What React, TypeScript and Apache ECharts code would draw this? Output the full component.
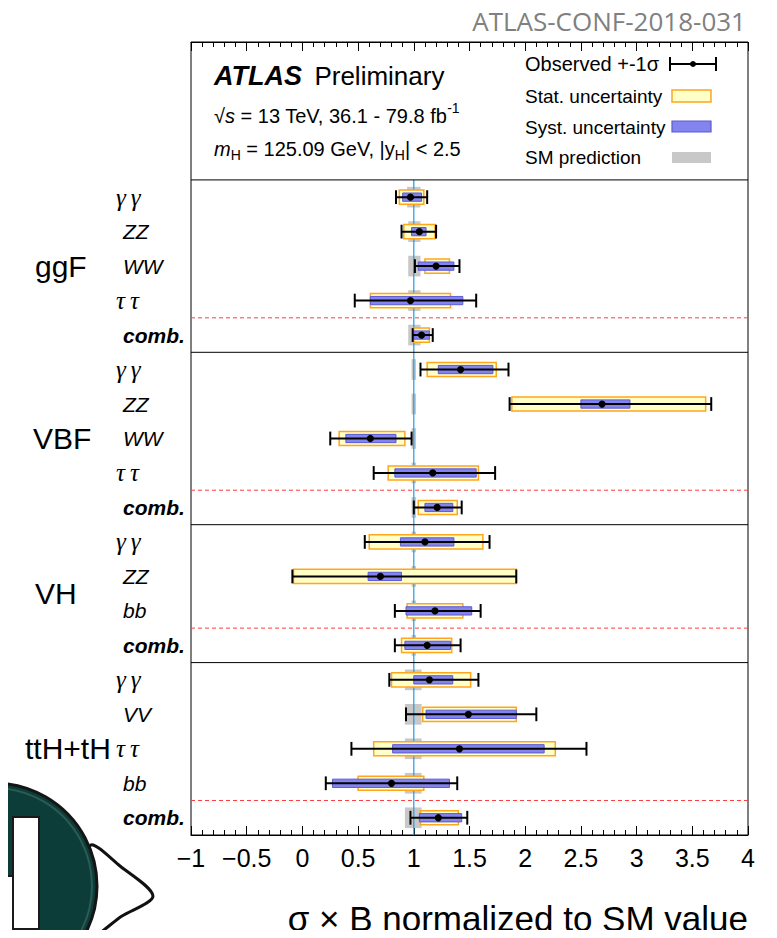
import React, { useEffect, useRef } from 'react';
import * as echarts from 'echarts';

// ---- data ----
const groups = ['ggF', 'VBF', 'VH', 'ttH+tH'];
const groupSizes = [5, 5, 4, 5];
const groupLabelLeft = [35, 33, 35, 25];
const categories = [
  'γγ', 'ZZ', 'WW', 'ττ', 'comb.',
  'γγ', 'ZZ', 'WW', 'ττ', 'comb.',
  'γγ', 'ZZ', 'bb', 'comb.',
  'γγ', 'VV', 'ττ', 'bb', 'comb.',
];
const observed = [0.97, 1.05, 1.2, 0.97, 1.07, 1.42, 2.69, 0.61, 1.17, 1.21, 1.1, 0.7, 1.19, 1.12, 1.14, 1.49, 1.41, 0.8, 1.22];
const totalLow = [0.84, 0.89, 1.01, 0.47, 0.99, 1.06, 1.86, 0.25, 0.64, 1.0, 0.56, -0.09, 0.83, 0.83, 0.78, 0.93, 0.44, 0.21, 0.97];
const totalHigh = [1.12, 1.2, 1.41, 1.56, 1.17, 1.85, 3.67, 0.98, 1.73, 1.43, 1.68, 1.92, 1.6, 1.42, 1.58, 2.1, 2.55, 1.39, 1.48];
const statLow = [0.87, 0.91, 1.1, 0.61, 1.0, 1.12, 1.88, 0.33, 0.77, 1.04, 0.6, -0.08, 0.94, 0.89, 0.8, 1.08, 0.64, 0.5, 1.06];
const statHigh = [1.09, 1.19, 1.32, 1.33, 1.14, 1.74, 3.62, 0.92, 1.58, 1.39, 1.62, 1.92, 1.44, 1.34, 1.51, 1.92, 2.27, 1.09, 1.4];
const systLow = [0.9, 0.98, 1.04, 0.61, 1.0, 1.22, 2.5, 0.39, 0.83, 1.1, 0.88, 0.59, 0.93, 0.92, 1.0, 1.11, 0.81, 0.27, 1.05];
const systHigh = [1.07, 1.11, 1.36, 1.44, 1.14, 1.71, 2.94, 0.84, 1.56, 1.35, 1.36, 0.89, 1.52, 1.33, 1.35, 1.92, 2.17, 1.32, 1.43];
const smLow = [0.94, 0.95, 0.95, 0.95, 0.95, 0.98, 0.98, 0.98, 0.98, 0.98, 0.98, 0.98, 0.98, 0.98, 0.92, 0.92, 0.92, 0.92, 0.92];
const smHigh = [1.06, 1.06, 1.06, 1.06, 1.06, 1.02, 1.02, 1.02, 1.02, 1.02, 1.02, 1.02, 1.02, 1.02, 1.07, 1.07, 1.07, 1.07, 1.07];
const smValue = 1;
const xMin = -1;
const xMax = 4;
const xInterval = 0.5;

// ---- layout rows ----
const HEADER_ROWS = 4;
const TOTAL_ROWS = HEADER_ROWS + groupSizes.reduce((a, b) => a + b, 0);
const groupStarts: number[] = [];
{
  let acc = HEADER_ROWS;
  groupSizes.forEach((s) => {
    groupStarts.push(acc);
    acc += s;
  });
}
const rowY = categories.map((_, i) => HEADER_ROWS + 0.5 + i);
const groupCenters = groupSizes.map((s, k) => groupStarts[k] + s / 2);

const SANS = '"Liberation Sans", Arial, Helvetica, sans-serif';
const SERIF = '"Liberation Serif", "DejaVu Serif", serif';

const YELLOW_FILL = '#ffffc8';
const YELLOW_STROKE = '#ffa51e';
const BLUE_FILL = '#8484ee';
const BLUE_STROKE = '#5a5ad6';
const GREY = '#c8c8c8';

export default function App() {
  const ref = useRef<HTMLDivElement>(null);

  useEffect(() => {
    if (!ref.current) return;
    const chart = echarts.init(ref.current, undefined, { renderer: 'svg' });

    const sepData: number[][] = [];
    groupStarts.forEach((s, k) => {
      sepData.push([xMin, s, 0]);
      sepData.push([xMin, s + groupSizes[k] - 1, 1]);
    });

    const option: any = {
      animation: false,
      backgroundColor: '#fff',
      grid: {
        left: 191,
        right: 29,
        top: 42,
        bottom: 103,
        show: true,
        borderColor: '#000',
        borderWidth: 1,
        backgroundColor: 'transparent',
      },
      xAxis: [
        {
          type: 'value',
          min: xMin,
          max: xMax,
          interval: xInterval,
          position: 'bottom',
          axisLine: { show: true, onZero: false, lineStyle: { color: '#000', width: 1 } },
          axisTick: { show: true, inside: true, length: 9, lineStyle: { color: '#000' } },
          minorTick: { show: true, splitNumber: 5, length: 5, lineStyle: { color: '#000' } },
          splitLine: { show: false },
          axisLabel: {
            show: true,
            margin: 10,
            fontSize: 25,
            fontFamily: SANS,
            color: '#000',
            formatter: (v: number) => (v < 0 ? '\u2212' + String(Math.abs(v)) : String(v)),
          },
        },
        {
          type: 'value',
          min: xMin,
          max: xMax,
          interval: xInterval,
          position: 'top',
          axisLine: { show: true, onZero: false, lineStyle: { color: '#000', width: 1 } },
          axisTick: { show: true, inside: true, length: 9, lineStyle: { color: '#000' } },
          minorTick: { show: true, splitNumber: 5, length: 5, lineStyle: { color: '#000' } },
          splitLine: { show: false },
          axisLabel: { show: false },
        },
      ],
      yAxis: { type: 'value', min: 0, max: TOTAL_ROWS, inverse: true, show: false },
      series: [
        // SM prediction grey boxes
        {
          type: 'custom',
          name: 'SM prediction',
          z: 1,
          data: categories.map((_, i) => [smValue, rowY[i], i]),
          encode: { x: 0, y: 1 },
          renderItem: (params: any, api: any) => {
            const i = api.value(2);
            const y = api.value(1);
            const pitch = api.size([0, 1])[1];
            const p0 = api.coord([smLow[i], y]);
            const p1 = api.coord([smHigh[i], y]);
            const h = pitch * 0.6;
            return {
              type: 'rect',
              shape: { x: p0[0], y: p0[1] - h / 2, width: p1[0] - p0[0], height: h },
              style: { fill: GREY },
            };
          },
        },
        // SM reference line
        {
          type: 'custom',
          z: 2,
          data: [[smValue, HEADER_ROWS, TOTAL_ROWS]],
          encode: { x: 0, y: 1 },
          renderItem: (params: any, api: any) => {
            const a = api.coord([api.value(0), api.value(1)]);
            const b = api.coord([api.value(0), api.value(2)]);
            return {
              type: 'line',
              shape: { x1: a[0], y1: a[1], x2: b[0], y2: b[1] },
              style: { stroke: '#1f9ce6', lineWidth: 1.2 },
            };
          },
        },
        // separators
        {
          type: 'custom',
          z: 2,
          data: sepData,
          encode: { x: 0, y: 1 },
          renderItem: (params: any, api: any) => {
            const y = api.value(1);
            const dashed = api.value(2) === 1;
            const a = api.coord([xMin, y]);
            const b = api.coord([xMax, y]);
            return {
              type: 'line',
              shape: { x1: a[0], y1: a[1], x2: b[0], y2: b[1] },
              style: dashed
                ? { stroke: '#ff3c3c', lineWidth: 1, lineDash: [4, 3] }
                : { stroke: '#000', lineWidth: 1 },
            };
          },
        },
        // measurements
        {
          type: 'custom',
          name: 'Observed',
          z: 3,
          data: categories.map((_, i) => [observed[i], rowY[i], i]),
          encode: { x: 0, y: 1 },
          renderItem: (params: any, api: any) => {
            const i = api.value(2);
            const y = api.value(1);
            const pitch = api.size([0, 1])[1];
            const c = (v: number) => api.coord([v, y]);
            const yc = c(observed[i])[1];
            const xo = c(observed[i])[0];
            const xs0 = c(statLow[i])[0];
            const xs1 = c(statHigh[i])[0];
            const xb0 = c(systLow[i])[0];
            const xb1 = c(systHigh[i])[0];
            const xe0 = c(totalLow[i])[0];
            const xe1 = c(totalHigh[i])[0];
            const hY = pitch * 0.41;
            const hB = pitch * 0.24;
            const cap = pitch * 0.4;
            const label = categories[i];
            const isGreek = /[γτ]/.test(label);
            const isComb = label === 'comb.';
            const shown = isGreek ? label.split('').join('\u2009') : label;
            return {
              type: 'group',
              children: [
                {
                  type: 'rect',
                  shape: { x: xs0, y: yc - hY / 2, width: xs1 - xs0, height: hY },
                  style: { fill: YELLOW_FILL, stroke: YELLOW_STROKE, lineWidth: 1.5 },
                },
                {
                  type: 'rect',
                  shape: { x: xb0, y: yc - hB / 2, width: xb1 - xb0, height: hB },
                  style: { fill: BLUE_FILL, stroke: BLUE_STROKE, lineWidth: 1 },
                },
                {
                  type: 'line',
                  shape: { x1: xe0, y1: yc, x2: xe1, y2: yc },
                  style: { stroke: '#000', lineWidth: 2 },
                },
                {
                  type: 'line',
                  shape: { x1: xe0, y1: yc - cap / 2, x2: xe0, y2: yc + cap / 2 },
                  style: { stroke: '#000', lineWidth: 2 },
                },
                {
                  type: 'line',
                  shape: { x1: xe1, y1: yc - cap / 2, x2: xe1, y2: yc + cap / 2 },
                  style: { stroke: '#000', lineWidth: 2 },
                },
                {
                  type: 'circle',
                  shape: { cx: xo, cy: yc, r: 3.6 },
                  style: { fill: '#000' },
                },
                {
                  type: 'text',
                  x: params.coordSys.x - (isGreek ? 75 : 68),
                  y: yc,
                  style: {
                    text: shown,
                    fill: '#000',
                    fontSize: isGreek ? 25 : 21,
                    fontFamily: isGreek ? SERIF : SANS,
                    fontStyle: 'italic',
                    fontWeight: isComb ? 'bold' : 'normal',
                    align: 'left',
                    verticalAlign: 'middle',
                  },
                },
              ],
            };
          },
        },
        // group labels
        {
          type: 'custom',
          z: 3,
          data: groups.map((_, k) => [xMin, groupCenters[k], k]),
          encode: { x: 0, y: 1 },
          renderItem: (params: any, api: any) => {
            const k = api.value(2);
            const p = api.coord([xMin, api.value(1)]);
            return {
              type: 'text',
              x: groupLabelLeft[k],
              y: p[1],
              style: {
                text: groups[k],
                fill: '#000',
                fontSize: 30,
                fontFamily: SANS,
                align: 'left',
                verticalAlign: 'middle',
              },
            };
          },
        },
      ],
      graphic: [
        // logo (bottom-left)
        {
          type: 'polygon',
          z: 0,
          shape: {
            points: [
              [90, 846],
              [120, 866],
              [153, 896],
              [122, 916],
              [88, 937],
            ],
            smooth: 0.3,
          },
          style: { fill: '#fff', stroke: '#111', lineWidth: 3 },
        },
        {
          type: 'circle',
          z: 1,
          shape: { cx: -6, cy: 886, r: 103 },
          style: { fill: '#0c3d38', stroke: '#151515', lineWidth: 3 },
        },
        {
          type: 'circle',
          z: 1,
          shape: { cx: -6, cy: 886, r: 98 },
          style: { fill: 'none', stroke: '#2d5a55', lineWidth: 2 },
        },
        {
          type: 'rect',
          z: 2,
          shape: { x: 13, y: 817, width: 26, height: 112 },
          style: { fill: '#fff', stroke: '#1a1a1a', lineWidth: 2 },
        },
        {
          type: 'rect',
          z: 2,
          shape: { x: -10, y: 876, width: 23, height: 70 },
          style: { fill: '#fff', stroke: '#1a1a1a', lineWidth: 2 },
        },
        // conference note id
        {
          type: 'text',
          x: 746,
          y: 21,
          style: {
            text: 'ATLAS-CONF-2018-031',
            fill: '#808080',
            fontSize: 26,
            fontFamily: '"Open Sans", sans-serif',
            align: 'right',
            verticalAlign: 'middle',
          },
        },
        // ATLAS label
        {
          type: 'text',
          x: 214,
          y: 76,
          style: {
            text: '{b|ATLAS}{n| \u2009Preliminary}',
            verticalAlign: 'middle',
            align: 'left',
            rich: {
              b: { fontSize: 27, fontFamily: SANS, fontStyle: 'italic', fontWeight: 'bold', fill: '#000' },
              n: { fontSize: 26, fontFamily: SANS, fill: '#000' },
            },
          },
        },
        {
          type: 'text',
          x: 214,
          y: 113,
          style: {
            text: '{n|\u221A}{i|s}{n| = 13 TeV, 36.1 - 79.8 fb}{sup|-1}',
            verticalAlign: 'middle',
            align: 'left',
            rich: {
              n: { fontSize: 20, fontFamily: SANS, fill: '#000', lineHeight: 25, verticalAlign: 'bottom' },
              i: { fontSize: 20, fontFamily: SANS, fontStyle: 'italic', fill: '#000', lineHeight: 25, verticalAlign: 'bottom' },
              sup: { fontSize: 14, fontFamily: SANS, fill: '#000', lineHeight: 14, verticalAlign: 'top' },
            },
          },
        },
        {
          type: 'text',
          x: 214,
          y: 150,
          style: {
            text: '{i|m}{sub|H}{n| = 125.09 GeV, |y}{sub|H}{n|| < 2.5}',
            verticalAlign: 'middle',
            align: 'left',
            rich: {
              n: { fontSize: 20, fontFamily: SANS, fill: '#000', lineHeight: 23, verticalAlign: 'top' },
              i: { fontSize: 20, fontFamily: SANS, fontStyle: 'italic', fill: '#000', lineHeight: 23, verticalAlign: 'top' },
              sub: { fontSize: 14, fontFamily: SANS, fill: '#000', lineHeight: 14, verticalAlign: 'bottom' },
            },
          },
        },
        // legend
        {
          type: 'text',
          x: 525,
          y: 64,
          style: { text: 'Observed +-1\u03C3', fontSize: 20, fontFamily: SANS, fill: '#000', align: 'left', verticalAlign: 'middle' },
        },
        { type: 'line', shape: { x1: 670, y1: 64, x2: 716, y2: 64 }, style: { stroke: '#000', lineWidth: 2 } },
        { type: 'line', shape: { x1: 670, y1: 57, x2: 670, y2: 71 }, style: { stroke: '#000', lineWidth: 2 } },
        { type: 'line', shape: { x1: 716, y1: 57, x2: 716, y2: 71 }, style: { stroke: '#000', lineWidth: 2 } },
        { type: 'circle', shape: { cx: 693, cy: 64, r: 3 }, style: { fill: '#000' } },
        {
          type: 'text',
          x: 525,
          y: 96,
          style: { text: 'Stat. uncertainty', fontSize: 19, fontFamily: SANS, fill: '#000', align: 'left', verticalAlign: 'middle' },
        },
        {
          type: 'rect',
          shape: { x: 672, y: 90, width: 39, height: 12 },
          style: { fill: YELLOW_FILL, stroke: YELLOW_STROKE, lineWidth: 1.5 },
        },
        {
          type: 'text',
          x: 525,
          y: 127,
          style: { text: 'Syst. uncertainty', fontSize: 19, fontFamily: SANS, fill: '#000', align: 'left', verticalAlign: 'middle' },
        },
        {
          type: 'rect',
          shape: { x: 672, y: 121, width: 39, height: 11 },
          style: { fill: BLUE_FILL, stroke: BLUE_STROKE, lineWidth: 1.2 },
        },
        {
          type: 'text',
          x: 525,
          y: 157,
          style: { text: 'SM prediction', fontSize: 19, fontFamily: SANS, fill: '#000', align: 'left', verticalAlign: 'middle' },
        },
        {
          type: 'rect',
          shape: { x: 672, y: 152, width: 39, height: 11 },
          style: { fill: GREY },
        },
        // x axis title
        {
          type: 'text',
          x: 748,
          y: 918,
          style: {
            text: '\u03C3 \u00D7 B normalized to SM value',
            fontSize: 35,
            fontFamily: SANS,
            fill: '#000',
            align: 'right',
            verticalAlign: 'middle',
          },
        },
      ],
    };

    chart.setOption(option);
    return () => chart.dispose();
  }, []);

  return <div ref={ref} style={{ width: 777, height: 938, margin: -8 }} />;
}
